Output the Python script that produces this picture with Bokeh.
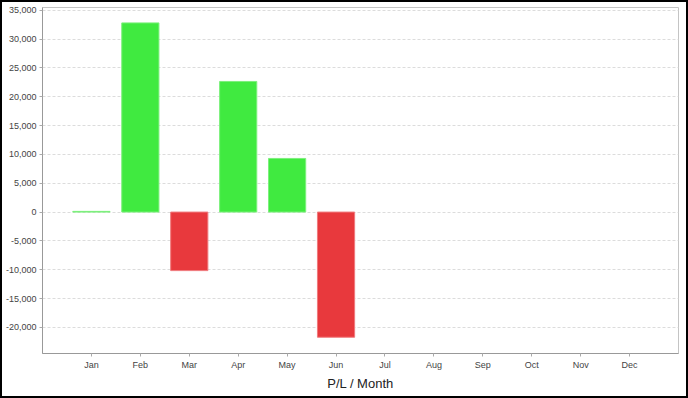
from bokeh.plotting import figure
from bokeh.models import ColumnDataSource, FactorRange, Range1d, FixedTicker, NumeralTickFormatter
from bokeh.embed import file_html
from bokeh.resources import INLINE

months = ["Jan", "Feb", "Mar", "Apr", "May", "Jun", "Jul", "Aug", "Sep", "Oct", "Nov", "Dec"]
# P/L values for months that have data (Jan..Jun)
pl_months = ["Jan", "Feb", "Mar", "Apr", "May", "Jun"]
pl_values = [120, 32800, -10150, 22650, 9300, -21700]
y_ticks = [-20000, -15000, -10000, -5000, 0, 5000, 10000, 15000, 20000, 25000, 30000, 35000]

GREEN = "#40EA40"
RED = "#E8393D"
colors = [GREEN if v >= 0 else RED for v in pl_values]
line_colors = ["#7CF07C" if v >= 0 else "#F07A7D" for v in pl_values]
bottoms = [0] * len(pl_values)

src = ColumnDataSource(dict(x=pl_months, top=pl_values, bottom=bottoms, color=colors, lc=line_colors))

p = figure(width=688, height=398, output_backend="svg", toolbar_location=None,
           x_range=FactorRange(factors=months, range_padding=0.5, range_padding_units="absolute"),
           y_range=Range1d(-24520, 35470),
           min_border_left=40, min_border_right=12, min_border_top=5, min_border_bottom=47)
p.styles = {"border": "2px solid black", "box-sizing": "border-box"}

p.vbar(x="x", top="top", bottom="bottom", width=0.76, source=src,
       fill_color="color", line_color="lc", line_width=1)

p.outline_line_color = "#c4c4c4"
p.outline_line_width = 1
p.background_fill_color = "white"
p.border_fill_color = "white"

p.xgrid.grid_line_color = None
p.ygrid.grid_line_color = "#dcdcdc"
p.ygrid.grid_line_dash = "3 2"
p.ygrid.ticker = FixedTicker(ticks=y_ticks)

p.yaxis.ticker = FixedTicker(ticks=y_ticks)
p.yaxis.formatter = NumeralTickFormatter(format="0,0")

for ax in (p.xaxis[0], p.yaxis[0]):
    ax.axis_line_color = "#999999"
    ax.axis_line_width = 1
    ax.major_tick_line_color = "#aaaaaa"
    ax.major_tick_in = 0
    ax.major_tick_out = 3
    ax.minor_tick_line_color = None
    ax.major_label_text_font = "Liberation Sans"
    ax.major_label_text_font_size = "9px"
    ax.major_label_text_color = "#444444"
    ax.major_label_standoff = 3

p.xaxis.major_label_standoff = 3
p.xaxis.axis_label = "P/L / Month"
p.xaxis.axis_label_text_font = "Liberation Sans"
p.xaxis.axis_label_text_font_size = "13px"
p.xaxis.axis_label_text_font_style = "normal"
p.xaxis.axis_label_text_color = "#222222"
p.xaxis.axis_label_standoff = 3

open("out.html", "w").write(file_html(p, INLINE))
